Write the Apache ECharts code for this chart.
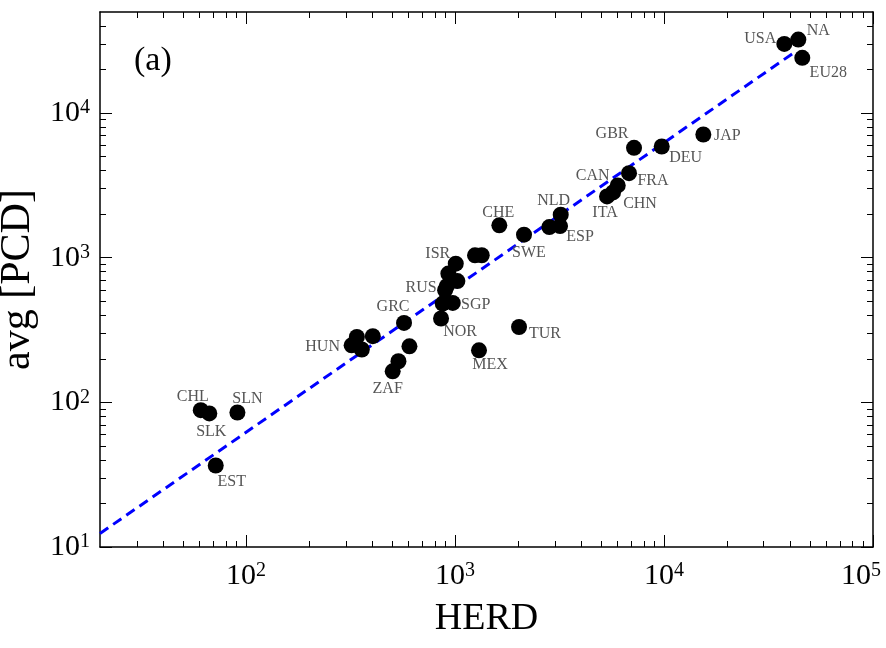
<!DOCTYPE html>
<html>
<head>
<meta charset="utf-8">
<script src="https://cdn.jsdelivr.net/npm/echarts@6/dist/echarts.min.js"></script>
<style>
  html, body { margin: 0; padding: 0; background: #fff; }
  #chart { width: 886px; height: 648px; }
</style>
</head>
<body>
<div id="chart"></div>
<script>
// country codes ('' = point without a label)
const countries = [
  'CHL', 'SLK', 'SLN', 'EST',
  '', 'HUN', '', '', 'GRC', '', '', 'ZAF',
  'NOR', '', 'SGP', 'RUS', '', '', '', 'ISR', '', '',
  'CHE', 'SWE', 'MEX', 'TUR', 'NLD', '', 'ESP',
  'GBR', 'DEU', 'JAP', 'FRA', 'CAN', 'CHN', 'ITA',
  'USA', 'NA', 'EU28'
]
const herd = [
  60.7, 66.7, 90.9, 71.6,
  339, 320, 358, 404, 570, 605, 536, 503,
  857, 873, 975, 896, 913, 1026, 929, 1008, 1246, 1342,
  1629, 2138, 1302, 2024, 3204, 2826, 3180,
  7186, 9750, 15420, 6800, 6004, 5702, 5337,
  37640, 43920, 45880
]
const pcd = [
  88.3, 83.8, 85.1, 36.6,
  283, 248, 232, 287, 354, 244, 192.5, 164,
  380, 482, 487, 596, 635, 690, 777, 910, 1039, 1040,
  1674, 1444, 229, 332, 1985, 1629, 1655,
  5755, 5878, 7114, 3845, 3162, 2830, 2655,
  30100, 32220, 24100
]
// dashed fit line end points
const fitHerd = [20, 43250]
const fitPcd = [12.4, 27050]

const xMajorTicks = [100, 1000, 10000, 100000]
const xMinorTicks = [30, 40, 50, 60, 70, 80, 90, 200, 300, 400, 500, 600, 700, 800, 900,
  2000, 3000, 4000, 5000, 6000, 7000, 8000, 9000, 20000, 30000, 40000, 50000, 60000, 70000, 80000, 90000]
const yMajorTicks = [10, 100, 1000, 10000]
const yMinorTicks = [20, 30, 40, 50, 60, 70, 80, 90, 200, 300, 400, 500, 600, 700, 800, 900,
  2000, 3000, 4000, 5000, 6000, 7000, 8000, 9000, 20000, 30000, 40000]

// label placement relative to the dot (px)
const labelOffset = {
  USA: [-24, -5], NA: [20, -9], EU28: [26, 15], JAP: [24, 1], GBR: [-22, -14],
  DEU: [24, 11], FRA: [24, 8], CAN: [-25, -10], CHN: [27, 11], ITA: [-2, 16],
  NLD: [-7, -14], ESP: [20, 11], CHE: [-1, -13], SWE: [5, 18], ISR: [-18, -10],
  RUS: [-24, -2], SGP: [23, 2], NOR: [19, 13], TUR: [26, 7], MEX: [11, 14],
  GRC: [-11, -16], HUN: [-29, 1], ZAF: [-5, 18], CHL: [-8, -13], SLK: [2, 18],
  SLN: [10, -14], EST: [16, 16]
}

const serif = '"Liberation Serif", "Times New Roman", serif'

const powLabel = {
  formatter: (v) => {
    const e = Math.round(Math.log10(v))
    // last label sits a bit left of its tick, like the original
    return e === 5 ? '{b|10}{e|' + e + '}' : '{b|10}{s|' + e + '}'
  },
  rich: {
    b: { fontSize: 30, fontFamily: serif, color: '#000' },
    s: { fontSize: 20, fontFamily: serif, color: '#000', verticalAlign: 'top', lineHeight: 18 },
    e: { fontSize: 20, fontFamily: serif, color: '#000', verticalAlign: 'top', lineHeight: 18, padding: [0, 24, 0, 0] }
  }
}

const makeAxis = (dim, pos, major, withLabel) => {
  const isX = dim === 'x'
  const ax = {
    type: 'log',
    logBase: 10,
    min: isX ? 20 : 10,
    max: isX ? 100000 : 50000,
    position: pos,
    axisLine: { show: major, lineStyle: { color: '#000', width: 1.5 } },
    axisTick: {
      show: true,
      inside: true,
      length: major ? 12 : 6,
      customValues: major ? (isX ? xMajorTicks : yMajorTicks) : (isX ? xMinorTicks : yMinorTicks),
      lineStyle: { color: '#000', width: 1 }
    },
    axisLabel: { show: false },
    splitLine: { show: false },
    minorTick: { show: false }
  }
  if (withLabel) {
    ax.axisLabel = Object.assign({
      show: true,
      margin: isX ? 14 : 10,
      customValues: isX ? xMajorTicks : yMajorTicks
    }, powLabel)
    ax.name = isX ? 'HERD' : 'avg [PCD]'
    ax.nameLocation = 'middle'
    ax.nameGap = isX ? 53 : 48
    ax.nameTextStyle = { fontSize: isX ? 38 : 42, fontFamily: serif, color: '#000' }
  }
  return ax
}

const chart = echarts.init(document.getElementById('chart'))

const points = herd.map((x, i) => {
  const name = countries[i]
  return {
    value: [x, pcd[i]],
    name: name,
    label: { show: name !== '', offset: labelOffset[name] || [0, 0] }
  }
})

const option = {
  animation: false,
  backgroundColor: '#fff',
  grid: { left: 100, right: 13, top: 12, bottom: 101, containLabel: false, outerBoundsMode: 'none' },
  xAxis: [
    makeAxis('x', 'bottom', true, true),
    makeAxis('x', 'bottom', false, false),
    makeAxis('x', 'top', true, false),
    makeAxis('x', 'top', false, false)
  ],
  yAxis: [
    makeAxis('y', 'left', true, true),
    makeAxis('y', 'left', false, false),
    makeAxis('y', 'right', true, false),
    makeAxis('y', 'right', false, false)
  ],
  graphic: [{
    type: 'text',
    left: 134,
    top: 44,
    style: { text: '(a)', font: '34px ' + serif, fill: '#000' }
  }],
  series: [
    {
      type: 'line',
      data: fitHerd.map((x, i) => [x, fitPcd[i]]),
      showSymbol: false,
      silent: true,
      z: 1,
      lineStyle: { color: '#0000ff', width: 3, type: [10, 6] }
    },
    {
      type: 'scatter',
      data: points,
      symbolSize: 16,
      z: 3,
      itemStyle: { color: '#000', opacity: 1 },
      label: {
        position: 'inside',
        formatter: '{b}',
        color: '#555',
        fontSize: 16,
        fontFamily: serif
      }
    }
  ]
}

chart.setOption(option)
</script>
</body>
</html>
